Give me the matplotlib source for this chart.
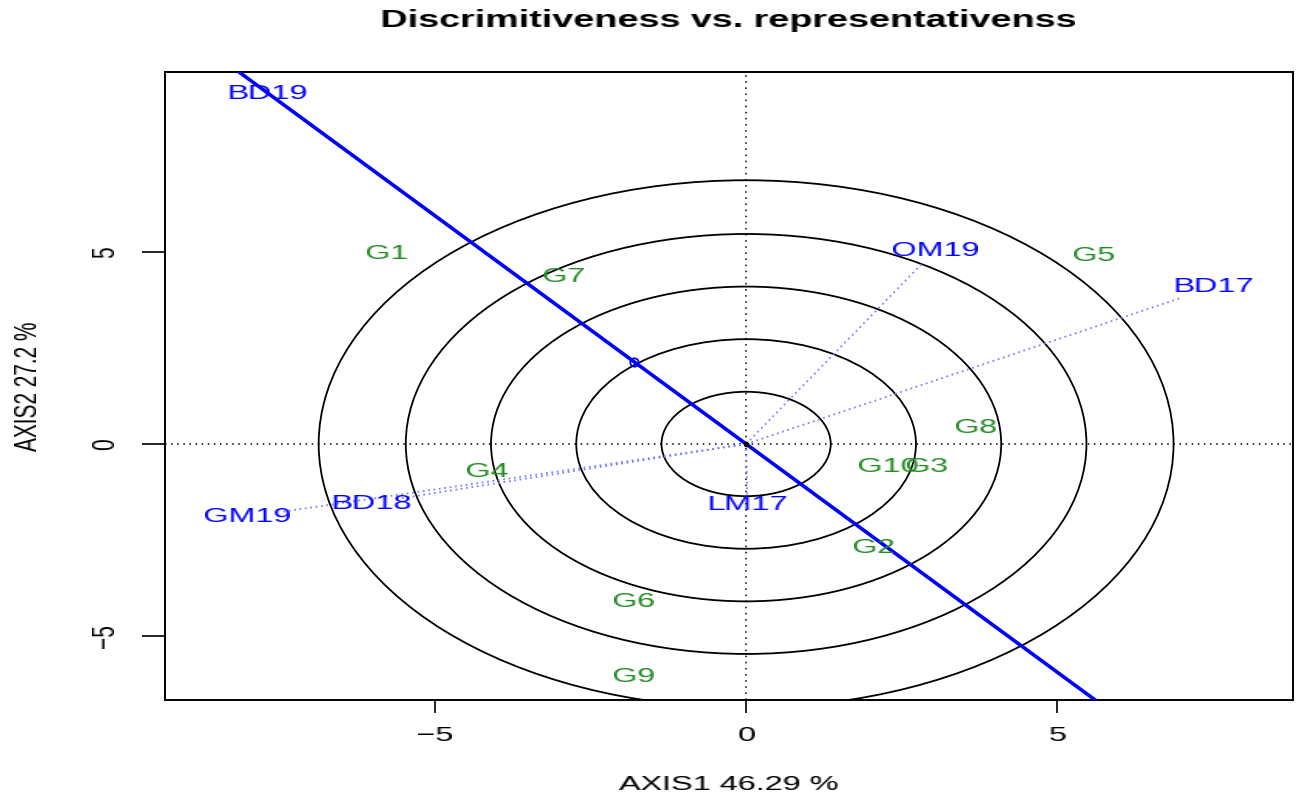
import numpy as np
import matplotlib
matplotlib.use("Agg")
import matplotlib.pyplot as plt
from matplotlib.patches import Circle

# ---------------- data ----------------
title = "Discrimitiveness vs. representativenss"
xlabel = "AXIS1 46.29 %"
ylabel = "AXIS2 27.2 %"

env_names = ["BD17", "BD18", "BD19", "GM19", "LM17", "OM19"]
env_x = [7.51, -6.03, -7.70, -8.02, 0.02, 3.04]
env_y = [4.09, -1.54, 9.12, -1.90, -1.59, 5.05]

gen_names = ["G1", "G2", "G3", "G4", "G5", "G6", "G7", "G8", "G9", "G10"]
gen_x = [-5.77, 2.06, 2.91, -4.15, 5.59, -1.80, -2.93, 3.70, -1.80, 2.28]
gen_y = [4.97, -2.71, -0.60, -0.73, 4.90, -4.11, 4.35, 0.44, -6.07, -0.60]

mean_env = (-1.80, 2.14)
circle_radii = [1.36, 2.73, 4.10, 5.47, 6.87]

xticks = [-5, 0, 5]
yticks = [-5, 0, 5]
xlim = (-9.34, 8.79)
ylim = (-6.67, 9.69)

# ---------------- style ----------------
FONT = "Liberation Sans"
STRETCH = 1.55      # horizontal stretch of the reference's text
VEC_SCALE = 0.93    # env vectors stop just short of their labels
ENV_COLOR = "#0000ff"
GEN_COLOR = "#228b22"
VEC_COLOR = "#8080ff"


def hstretch(img, dpi):
    h, w = img.shape[:2]
    W = max(1, int(round(w * STRETCH)))
    xs = (np.arange(W) + 0.5) / W * w - 0.5
    xs = np.clip(xs, 0, w - 1)
    i0 = np.floor(xs).astype(int)
    i1 = np.minimum(i0 + 1, w - 1)
    t = (xs - i0)[None, :, None]
    a = img[..., 3:4]
    pm = np.concatenate([img[..., :3] * a, a], axis=2)
    out = pm[:, i0] * (1 - t) + pm[:, i1] * t
    alpha = out[..., 3:4]
    rgb = out[..., :3] / np.maximum(alpha, 1e-6)
    rgb = np.where(alpha > 1e-6, rgb, 0.0)
    res = np.clip(np.concatenate([rgb, alpha], axis=2), 0, 1)
    return res, -int(round((W - w) / 2)), 0


plt.rcParams["font.family"] = [FONT, "DejaVu Sans"]

fig = plt.figure(figsize=(12.97, 7.99), dpi=100)
ax = fig.add_axes([165 / 1297, 99 / 799, 1128 / 1297, 628 / 799])
ax.set_xlim(*xlim)
ax.set_ylim(*ylim)

# reference axes
ax.axhline(0, color="black", ls=(0, (1, 3)), lw=1.1, zorder=1)
ax.axvline(0, color="black", ls=(0, (1, 3)), lw=1.1, zorder=1)

# concentric circles
for r in circle_radii:
    ax.add_patch(Circle((0, 0), r, fill=False, ec="black", lw=1.3, zorder=2))

# environment vectors
for x, y in zip(env_x, env_y):
    ax.plot([0, x * VEC_SCALE], [0, y * VEC_SCALE], ls=(0, (1, 2)),
            color=VEC_COLOR, lw=1.3, zorder=3)

# average environment axis
ax.axline((0, 0), mean_env, color="#0000ff", lw=2.6, zorder=4)
ax.plot([mean_env[0]], [mean_env[1]], marker="o", ms=6, mfc="none",
        mec="#0000ff", mew=1.3, zorder=5)
ax.plot([0], [0], marker="o", ms=3, color="black", zorder=5)

texts = []
for n, x, y in zip(env_names, env_x, env_y):
    texts.append(ax.text(x, y, n, color=ENV_COLOR, fontsize=15, ha="center",
                         va="center", zorder=6))
for n, x, y in zip(gen_names, gen_x, gen_y):
    texts.append(ax.text(x, y, n, color=GEN_COLOR, fontsize=15, ha="center",
                         va="center", zorder=6))

ax.set_xticks(xticks)
ax.set_yticks(yticks)
ax.set_xticklabels([f"{v}".replace("-", "\u2212") for v in xticks])
ax.set_yticklabels([f"{v}".replace("-", "\u2212") for v in yticks])
ax.tick_params(axis="x", direction="out", length=9.4, width=1.2, pad=9,
               labelsize=15)
ax.tick_params(axis="y", direction="out", length=16.5, width=1.2, pad=20,
               labelsize=15, labelrotation=90)
for t in ax.yaxis.get_major_ticks():
    t.label1.set_va("center")
    t.label1.set_agg_filter(hstretch)
for t in ax.xaxis.get_major_ticks():
    t.label1.set_agg_filter(hstretch)

for s in ax.spines.values():
    s.set_linewidth(1.4)

xl = ax.set_xlabel(xlabel, fontsize=15)
ax.xaxis.set_label_coords(0.5, -85 / 628)
xl.set_va("center")
yl = ax.set_ylabel(ylabel, fontsize=15)
ax.yaxis.set_label_coords(-137 / 1128, 0.5)
yl.set_va("center")
yl.set_ha("center")

tt = fig.text((165 + 564) / 1297, 1 - 21 / 799, title, fontsize=17.5,
              fontweight="bold", ha="center", va="center")

for t in texts + [xl, yl, tt]:
    t.set_agg_filter(hstretch)

fig.savefig("out.png", dpi=100)
